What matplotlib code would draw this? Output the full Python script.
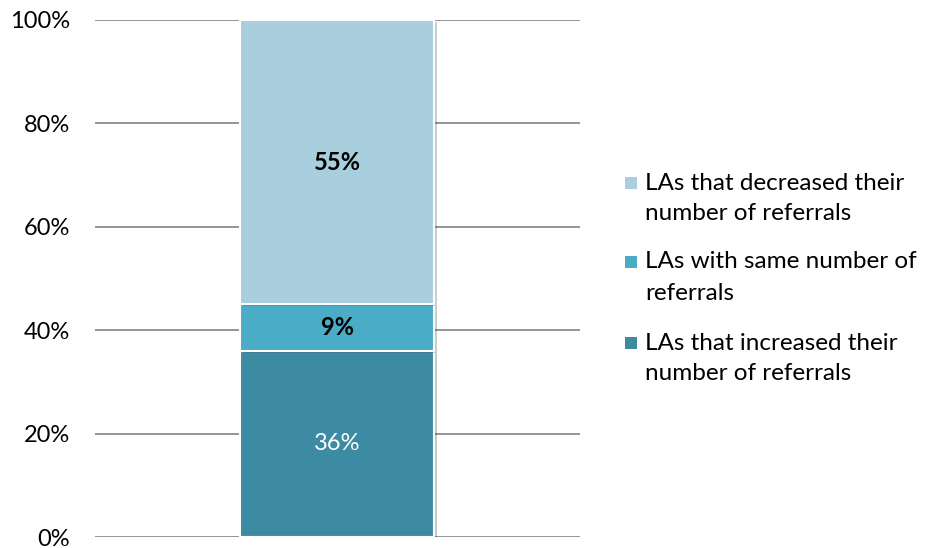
import matplotlib
matplotlib.use("Agg")
import matplotlib.pyplot as plt
from matplotlib.patches import Rectangle
import matplotlib.patheffects as pe

plt.rcParams["font.family"] = ["Lato", "DejaVu Sans"]

# stacked from bottom to top
labels = [
    ["LAs that increased their", "number of referrals"],
    ["LAs with same number of", "referrals"],
    ["LAs that decreased their", "number of referrals"],
]
values = [36, 9, 55]
colors = ["#3C8BA2", "#4BACC6", "#A9CEDE"]
label_colors = ["white", "black", "black"]
label_weights = ["normal", "bold", "bold"]
yticks = [0, 20, 40, 60, 80, 100]

W, H = 928, 548
fig = plt.figure(figsize=(W / 100, H / 100), dpi=100)
ax = fig.add_axes([95 / W, 1 - 537 / H, 485 / W, 517 / H])

bottom = 0
for val, col, tc, tw in zip(values, colors, label_colors, label_weights):
    ax.bar(0, val, bottom=bottom, width=0.4, color=col, edgecolor="white",
           linewidth=1.5, zorder=3,
           path_effects=[pe.SimplePatchShadow(offset=(1.5, -1.5), alpha=0.25),
                         pe.Normal()])
    ax.text(0, bottom + val / 2, f"{val}%",
            ha="center", va="center", color=tc, fontsize=17, fontweight=tw,
            zorder=4)
    bottom += val

ax.set_xlim(-0.5, 0.5)
ax.set_ylim(0, 100)
ax.set_yticks(yticks)
ax.set_yticklabels([f"{t}%" for t in yticks], fontsize=17)
ax.set_xticks([])
ax.tick_params(axis="y", length=0, pad=18)
for s in ax.spines.values():
    s.set_visible(False)
ax.yaxis.grid(True, color="#8C8C8C", linewidth=1.3, zorder=0)
ax.set_axisbelow(True)

# legend, top entry first, square beside the first line
entry_y = [183, 262, 343]
for i, (lines, col) in enumerate(zip(labels[::-1], colors[::-1])):
    y0 = entry_y[i]
    fig.patches.append(Rectangle((625 / W, 1 - (y0 + 6) / H), 12 / W, 12 / H,
                                 transform=fig.transFigure, facecolor=col,
                                 edgecolor="none"))
    for j, line in enumerate(lines):
        fig.text(645 / W, 1 - (y0 + 31 * j) / H, line, ha="left", va="center",
                 fontsize=17.5, color="black")

fig.savefig("out.png", dpi=100)
